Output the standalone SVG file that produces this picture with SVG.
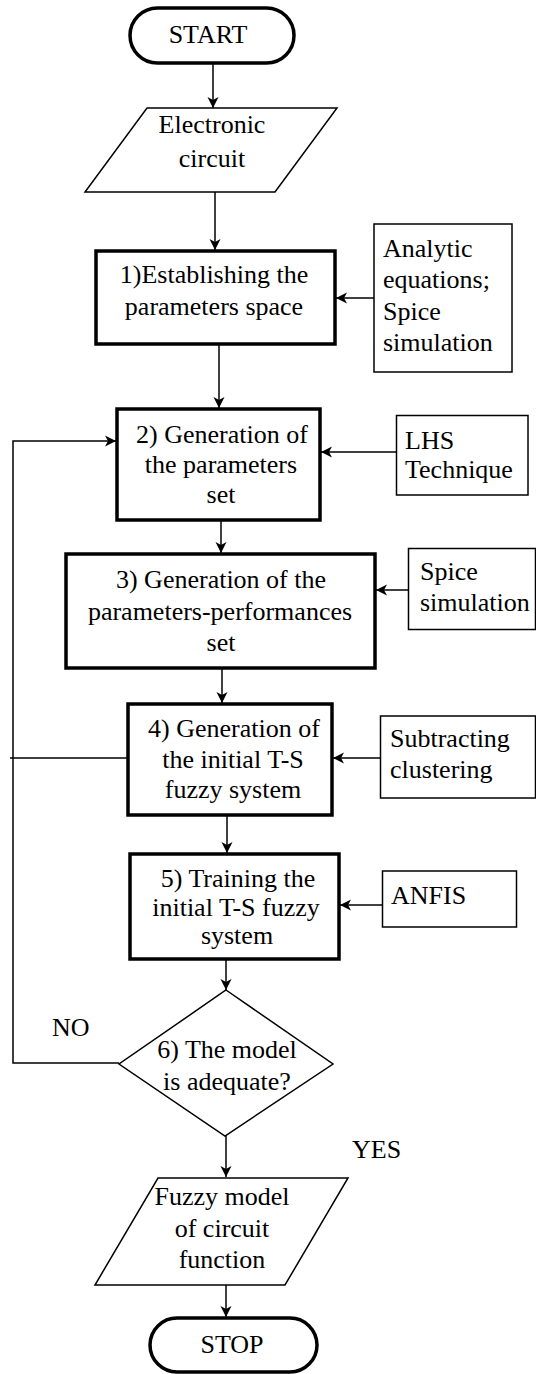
<svg xmlns="http://www.w3.org/2000/svg" width="536" height="1374" viewBox="0 0 536 1374">
  <style>
    text { font-family: "Liberation Serif", "Times New Roman", serif; font-size: 26px; fill: #000; }
    .c { text-anchor: middle; }
    .thick { fill: #fff; stroke: #000; stroke-width: 3.5; }
    .thin { fill: #fff; stroke: #000; stroke-width: 1.5; }
    .conn { fill: none; stroke: #000; stroke-width: 1.5; }
  </style>
  <defs>
    <marker id="arr" viewBox="0 0 12 12" refX="11" refY="6" markerWidth="12" markerHeight="12" markerUnits="userSpaceOnUse" orient="auto">
      <path d="M0,0.5 L11,6 L0,11.5 L3,6 z" fill="#000"/>
    </marker>
  </defs>
  <rect width="536" height="1374" fill="#fff"/>

  <!-- connectors -->
  <g id="connectors">
    <path class="conn" d="M213,63 V108" marker-end="url(#arr)"/>
    <path class="conn" d="M215,192 V250" marker-end="url(#arr)"/>
    <path class="conn" d="M374,298 H336" marker-end="url(#arr)"/>
    <path class="conn" d="M219,344 V408" marker-end="url(#arr)"/>
    <path class="conn" d="M396,452 H321" marker-end="url(#arr)"/>
    <path class="conn" d="M221,520 V553" marker-end="url(#arr)"/>
    <path class="conn" d="M408,590 H376" marker-end="url(#arr)"/>
    <path class="conn" d="M222,668 V703" marker-end="url(#arr)"/>
    <path class="conn" d="M380,758 H333" marker-end="url(#arr)"/>
    <path class="conn" d="M10,758 H128"/>
    <path class="conn" d="M227,815 V853" marker-end="url(#arr)"/>
    <path class="conn" d="M382,905 H340" marker-end="url(#arr)"/>
    <path class="conn" d="M226,959 V990" marker-end="url(#arr)"/>
    <path class="conn" d="M119,1063 H13 V441 H116" marker-end="url(#arr)"/>
    <path class="conn" d="M226,1136 V1177" marker-end="url(#arr)"/>
    <path class="conn" d="M226,1285 V1317" marker-end="url(#arr)"/>
  </g>

  <g id="start">
    <rect class="thick" x="130" y="8" width="164" height="55" rx="27.5"/>
    <text class="c" x="208" y="43">START</text>
  </g>

  <g id="input">
    <polygon class="thin" points="147,108 337,108 275,192 85,192"/>
    <text class="c" x="212" y="133">Electronic</text>
    <text class="c" x="212" y="167">circuit</text>
  </g>

  <g id="step1">
    <rect class="thick" x="96" y="251" width="239" height="93"/>
    <text class="c" x="214" y="283">1)Establishing the</text>
    <text class="c" x="214" y="315">parameters space</text>
  </g>

  <g id="src1">
    <rect class="thin" x="374" y="224" width="138" height="148"/>
    <text x="383" y="257">Analytic</text>
    <text x="383" y="288">equations;</text>
    <text x="383" y="320">Spice</text>
    <text x="383" y="351">simulation</text>
  </g>

  <g id="step2">
    <rect class="thick" x="117" y="409" width="203" height="111"/>
    <text class="c" x="222" y="443">2) Generation of</text>
    <text class="c" x="221" y="473">the parameters</text>
    <text class="c" x="221" y="503">set</text>
  </g>

  <g id="src2">
    <rect class="thin" x="396.5" y="415.5" width="131.5" height="79.5"/>
    <text x="405" y="449">LHS</text>
    <text x="405" y="478">Technique</text>
  </g>

  <g id="step3">
    <rect class="thick" x="66" y="554" width="309" height="114"/>
    <text class="c" x="221" y="588">3) Generation of the</text>
    <text class="c" x="220" y="620">parameters-performances</text>
    <text class="c" x="221" y="651">set</text>
  </g>

  <g id="src3">
    <rect class="thin" x="408.5" y="548.5" width="127" height="81"/>
    <text x="420" y="580">Spice</text>
    <text x="420" y="611">simulation</text>
  </g>

  <g id="step4">
    <rect class="thick" x="128" y="704" width="204" height="111"/>
    <text class="c" x="234" y="737">4) Generation of</text>
    <text class="c" x="233" y="768">the initial T-S</text>
    <text class="c" x="233" y="798">fuzzy system</text>
  </g>

  <g id="src4">
    <rect class="thin" x="380.5" y="716" width="155" height="82"/>
    <text x="390" y="747">Subtracting</text>
    <text x="390" y="778">clustering</text>
  </g>

  <g id="step5">
    <rect class="thick" x="130" y="854" width="209" height="105"/>
    <text class="c" x="238" y="887">5) Training the</text>
    <text class="c" x="236" y="916">initial T-S fuzzy</text>
    <text class="c" x="237" y="944">system</text>
  </g>

  <g id="src5">
    <rect class="thin" x="382.5" y="871" width="134" height="56"/>
    <text x="391" y="904">ANFIS</text>
  </g>

  <g id="decision">
    <polygon class="thin" points="226,990 333,1064 225,1136 119,1064"/>
    <text class="c" x="227" y="1058">6) The model</text>
    <text class="c" x="227" y="1090">is adequate?</text>
  </g>

  <g id="labels">
    <text x="52" y="1036">NO</text>
    <text x="352" y="1158">YES</text>
  </g>

  <g id="output">
    <polygon class="thin" points="158,1178 348,1178 285,1285 95,1285"/>
    <text class="c" x="222" y="1205">Fuzzy model</text>
    <text class="c" x="222" y="1237">of circuit</text>
    <text class="c" x="222" y="1268">function</text>
  </g>

  <g id="stop">
    <rect class="thick" x="150" y="1318" width="167" height="54" rx="27"/>
    <text class="c" x="232" y="1353">STOP</text>
  </g>
</svg>
